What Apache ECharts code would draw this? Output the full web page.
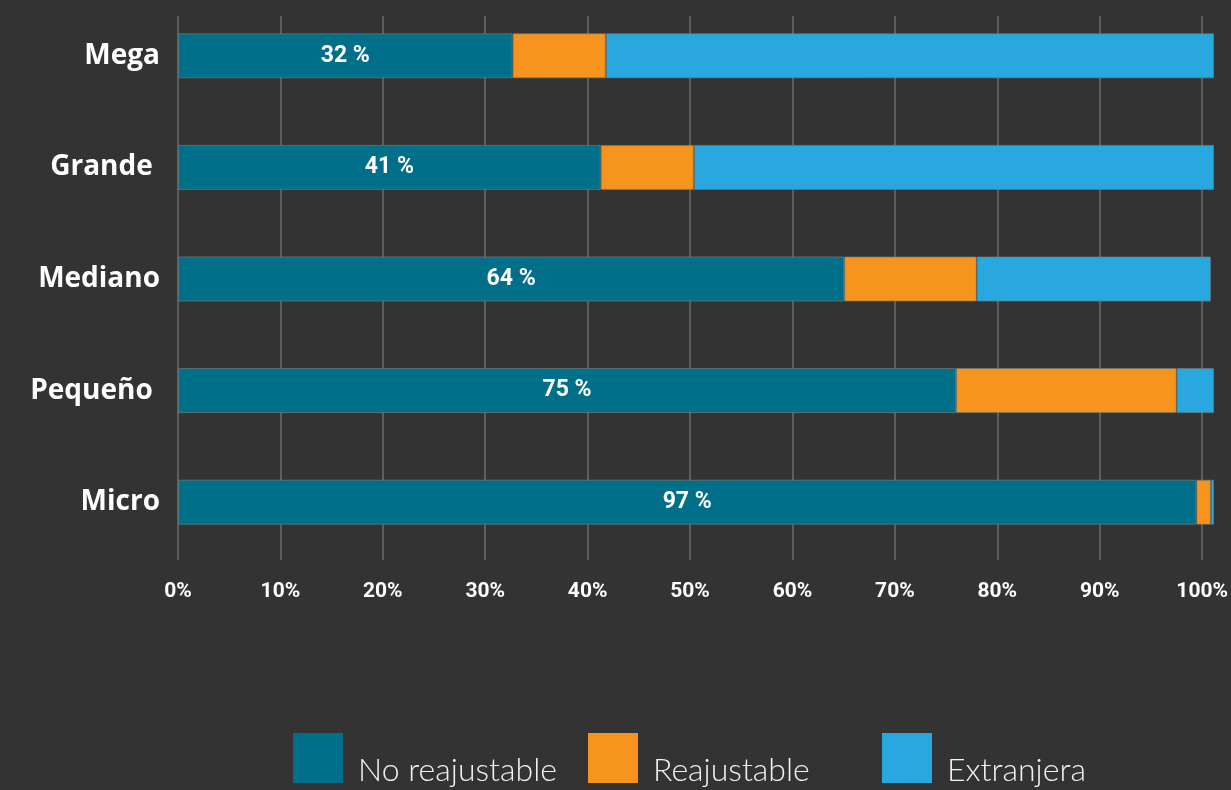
<!DOCTYPE html>
<html><head><meta charset="utf-8">
<script src="https://cdn.jsdelivr.net/npm/echarts@6/dist/echarts.min.js"></script>
<style>html,body{margin:0;padding:0;background:#333333;}#c{width:1231px;height:790px;}</style>
</head><body><div id="c"></div>
<script>
const categories = ['Mega', 'Grande ', 'Mediano', 'Pequeño ', 'Micro'];
const noReajustable = [32.3, 40.8, 64.3, 75.1, 98.3];
const reajustable = [9.0, 9.0, 12.8, 21.3, 1.4];
const extranjera = [58.7, 50.2, 22.6, 3.6, 0.3];
const barLabels = ['32 %', '41 %', '64 %', '75 %', '97 %'];
const xTicks = [0,10,20,30,40,50,60,70,80,90,100];
const seriesNames = ['No reajustable', 'Reajustable', 'Extranjera'];

const condensed = "Roboto, sans-serif";
const chart = echarts.init(document.getElementById('c'));
const border = {borderColor: 'rgba(110,125,125,0.7)', borderWidth: 1};
const legendText = {color: '#f2f2f2', fontFamily: 'Lato, sans-serif', fontWeight: 300, fontSize: 32};
const legendLefts = [293, 588, 882];
chart.setOption({
  backgroundColor: '#333333',
  animation: false,
  grid: [
    {left: 178, right: 17, top: 0, bottom: 790 - 558},
    {left: 178, right: 17, top: 16, bottom: 790 - 560}
  ],
  xAxis: [
    {gridIndex: 0, type: 'value', min: 0, max: 100, show: false},
    {gridIndex: 1, type: 'value', min: 0, max: 100, interval: 10,
     axisLine: {show: false}, axisTick: {show: false},
     splitLine: {show: true, lineStyle: {color: '#5e5e5e', width: 2}},
     axisLabel: {color: '#ffffff', fontFamily: condensed, fontWeight: 'bold', fontSize: 21, margin: 21,
       formatter: v => xTicks.includes(v) ? v + '%' : ''}}
  ],
  yAxis: [
    {gridIndex: 0, type: 'category', data: categories, inverse: true,
     axisLine: {show: false}, axisTick: {show: false},
     axisLabel: {color: '#ffffff', fontFamily: "'Open Sans', sans-serif", fontWeight: 'bold', fontSize: 28, margin: 18}},
    {gridIndex: 1, type: 'category', data: categories, show: false}
  ],
  legend: seriesNames.map((n, i) => ({
    left: legendLefts[i], top: 733, padding: 0, itemWidth: 50, itemHeight: 50,
    icon: 'rect',
    itemStyle: {borderWidth: 0},
    data: [n],
    formatter: s => '{t|' + s + '}',
    textStyle: Object.assign({rich: {t: Object.assign({padding: [26, 0, 0, 10]}, legendText)}}, legendText)
  })),
  series: [
    {name: seriesNames[0], type: 'bar', stack: 't', barWidth: 45, data: noReajustable,
     itemStyle: Object.assign({color: '#006F89'}, border),
     label: {show: true, position: 'inside', color: '#ffffff', fontFamily: condensed, fontWeight: 'bold', fontSize: 23,
       formatter: p => barLabels[p.dataIndex]}},
    {name: seriesNames[1], type: 'bar', stack: 't', data: reajustable,
     itemStyle: Object.assign({color: '#F7941E'}, border)},
    {name: seriesNames[2], type: 'bar', stack: 't', data: extranjera,
     itemStyle: Object.assign({color: '#29A8E0'}, border)}
  ]
});
</script></body></html>
